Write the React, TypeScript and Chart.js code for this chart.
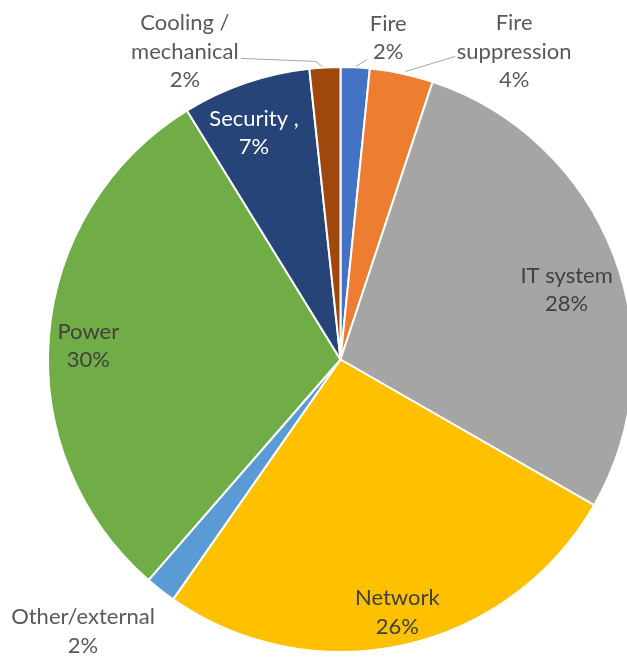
import React, { useEffect, useRef } from "react";
import { Chart, registerables } from "chart.js";

Chart.register(...registerables);

// ---- data ----
const categories = [
  "Fire",
  "Fire suppression",
  "IT system",
  "Network",
  "Other/external",
  "Power",
  "Security ,",
  "Cooling / mechanical",
];
const shares = [1.6, 3.5, 28.2, 26.4, 1.7, 29.8, 7.1, 1.7];
const percentLabels = ["2%", "4%", "28%", "26%", "2%", "30%", "7%", "2%"];
const labelLines = [
  ["Fire"],
  ["Fire", "suppression"],
  ["IT system"],
  ["Network"],
  ["Other/external"],
  ["Power"],
  ["Security ,"],
  ["Cooling /", "mechanical"],
];

// ---- styles ----
const sliceColors = [
  "#4472C4",
  "#ED7D31",
  "#A5A5A5",
  "#FFC000",
  "#5B9BD5",
  "#70AD47",
  "#264478",
  "#9E480E",
];
const FONT = "22px Lato, 'Open Sans', sans-serif";
const LINE_H = 28.5;

type Pt = [number, number, "e" | "l"];
type Layout =
  | { type: "in"; k: number; dx: number; dy: number; color: string }
  | { type: "out"; dx: number; dy: number; color: string; leader: Pt[] };

const layouts: Layout[] = [
  { type: "out", dx: 33, dy: -29.5, color: "#595959", leader: [[1, -1, "e"], [12, -8, "e"]] },
  { type: "out", dx: 112.5, dy: -22, color: "#595959", leader: [[4, -2, "e"], [-59, 5, "l"]] },
  { type: "in", k: 0.82, dx: 2, dy: 16, color: "#404040" },
  { type: "in", k: 0.89, dx: 0, dy: -1, color: "#404040" },
  { type: "out", dx: -77.5, dy: 41.5, color: "#595959", leader: [] },
  { type: "in", k: 0.865, dx: 0, dy: 7, color: "#404040" },
  { type: "in", k: 0.818, dx: -9, dy: 0, color: "#ffffff" },
  { type: "out", dx: -140, dy: -16, color: "#595959", leader: [[-3, -1, "e"], [-9, -6, "e"], [56, 7, "l"]] },
];

const labelPlugin = {
  id: "sliceLabels",
  afterDatasetsDraw(chart: any) {
    const ctx = chart.ctx;
    const meta = chart.getDatasetMeta(0);
    ctx.save();
    ctx.font = FONT;
    ctx.textAlign = "center";
    ctx.textBaseline = "middle";
    meta.data.forEach((arc: any, i: number) => {
      const { x, y, startAngle, endAngle, outerRadius } = arc.getProps(
        ["x", "y", "startAngle", "endAngle", "outerRadius"],
        true
      );
      const mid = (startAngle + endAngle) / 2;
      const lay = layouts[i];
      let cx: number, cy: number;
      if (lay.type === "in") {
        cx = x + Math.cos(mid) * outerRadius * lay.k + lay.dx;
        cy = y + Math.sin(mid) * outerRadius * lay.k + lay.dy;
      } else {
        const ex = x + Math.cos(mid) * outerRadius;
        const ey = y + Math.sin(mid) * outerRadius;
        cx = ex + lay.dx;
        cy = ey + lay.dy;
        if (lay.leader.length > 1) {
          ctx.strokeStyle = "#A6A6A6";
          ctx.lineWidth = 1;
          ctx.beginPath();
          lay.leader.forEach((p, j) => {
            const px = (p[2] === "e" ? ex : cx) + p[0];
            const py = (p[2] === "e" ? ey : cy) + p[1];
            if (j === 0) ctx.moveTo(px, py);
            else ctx.lineTo(px, py);
          });
          ctx.stroke();
        }
      }
      const lines = [...labelLines[i], percentLabels[i]];
      const y0 = cy - ((lines.length - 1) * LINE_H) / 2;
      ctx.fillStyle = lay.color;
      lines.forEach((t, j) => ctx.fillText(t, cx, y0 + j * LINE_H));
    });
    ctx.restore();
  },
};

export default function App() {
  const ref = useRef<HTMLCanvasElement | null>(null);
  useEffect(() => {
    if (!ref.current) return;
    const chart = new Chart(ref.current, {
      type: "pie",
      data: {
        labels: categories,
        datasets: [
          {
            data: shares,
            backgroundColor: sliceColors,
            borderColor: "#ffffff",
            borderWidth: 2,
          },
        ],
      },
      options: {
        responsive: false,
        animation: false,
        layout: { padding: { left: 47, right: 47, top: 66, bottom: 66 } },
        plugins: {
          legend: { display: false },
          tooltip: { enabled: false },
        },
      },
      plugins: [labelPlugin],
    });
    return () => chart.destroy();
  }, []);
  return (
    <div
      style={{
        position: "fixed",
        left: 0,
        top: 0,
        width: 627,
        height: 657,
        overflow: "hidden",
        background: "#ffffff",
      }}
    >
      <canvas ref={ref} width={681} height={719} style={{ display: "block" }} />
    </div>
  );
}
